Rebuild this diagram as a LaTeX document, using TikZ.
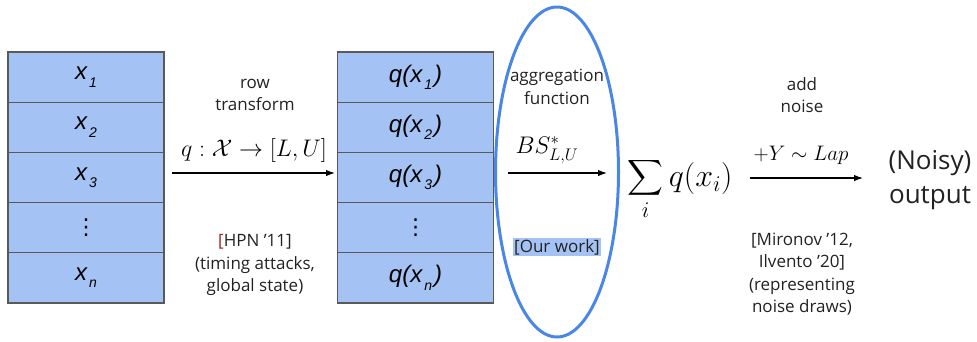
\RequirePackage{fix-cm}
\documentclass[tikz,border=0pt]{standalone}
\usepackage{exscale}
\usepackage{amsmath}
\usepackage{fontspec}
\setmainfont{Open Sans}
\newfontfamily\cellfont{Liberation Sans}
\newfontfamily\dotfont{DejaVu Sans}
\usetikzlibrary{arrows.meta,shapes.geometric}
\definecolor{cellblue}{HTML}{A4C2F4}
\definecolor{ringblue}{HTML}{4A86E8}
\definecolor{edgegray}{HTML}{595959}
\definecolor{txt}{HTML}{222222}
\definecolor{brk}{HTML}{A02020}
\newcommand\cx[1]{x\hspace{2pt}\raisebox{-7.5pt}{\fontsize{14}{14}\selectfont #1}}
\newcommand\qx[1]{q(\cx{#1}\hspace{2pt})}
\newcommand\vd{{\dotfont\upshape\fontsize{22}{24}\selectfont ⋮}}
\begin{document}
\begin{tikzpicture}[x=1pt,y=-1pt,
  cell/.style={draw=edgegray,line width=1.2pt,fill=cellblue,minimum width=156pt,minimum height=50.2pt,inner sep=0pt,text=black,font=\cellfont\itshape\fontsize{24}{26}\selectfont},
  lbl/.style={font=\fontsize{17}{22.5}\selectfont,align=center,text=txt,inner sep=0pt},
  arr/.style={-{Latex[length=9pt,width=6.5pt]},line width=1.2pt},
  ]
\useasboundingbox (0,0) rectangle (977,341);
% left table
\node[cell] (l1) at (86,77.1) {\cx{1}};
\node[cell] (l2) at (86,127.3) {\cx{2}};
\node[cell] (l3) at (86,177.5) {\cx{3}};
\node[cell] (l4) at (86,227.7) {\vd};
\node[cell] (l5) at (86,277.9) {\cx{n}};
% middle table
\node[cell] (m1) at (415.5,77.1) {\qx{1}};
\node[cell] (m2) at (415.5,127.3) {\qx{2}};
\node[cell] (m3) at (415.5,177.5) {\qx{3}};
\node[cell] (m4) at (415.5,227.7) {\vd};
\node[cell] (m5) at (415.5,277.9) {\qx{n}};
% ellipse
\node[draw=ringblue,line width=3pt,ellipse,minimum width=123pt,minimum height=330pt,inner sep=0pt] (ring) at (557,172) {};
% labels row transform
\node[lbl] (rowlbl) at (255,95) {row\\transform};
\node[inner sep=0pt] (qmap) at (254,150) {\fontsize{24}{26}\selectfont $q:\mathcal{X}\to[L,U]$};
\node[lbl] (hpn) at (255,265) {{\color{brk}[}HPN ’11]\\(timing attacks,\\global state)};
% aggregation
\node[lbl] (agg) at (557,87) {aggregation\\function};
\node[inner sep=0pt] (bs) at (547,150) {\fontsize{24}{26}\selectfont $BS^*_{L,U}$};
\node[lbl,fill=cellblue,inner sep=1.5pt] (ours) at (557,247) {[Our work]};
% sum
\node[inner sep=0pt] (sum) at (680,189) {\fontsize{32}{34}\selectfont $\displaystyle\sum_i q(x_i)$};
% noise
\node[lbl] (addn) at (802,95) {add\\noise};
\node[inner sep=0pt] (lap) at (801,155) {\fontsize{21}{23}\selectfont $+Y\sim Lap$};
\node[lbl] (mir) at (802,274) {[Mironov ’12,\\Ilvento ’20]\\(representing\\noise draws)};
% output
\node[font=\fontsize{26}{34}\selectfont,align=center,text=txt,inner sep=0pt] (out) at (930,180) {(Noisy)\\output};
% arrows
\coordinate (a1s) at (172,173);
\coordinate (a1e) at (335,173);
\coordinate (a2s) at (508,173);
\coordinate (a2e) at (607,173);
\coordinate (a3s) at (750,178);
\coordinate (a3e) at (863,178);
\draw[arr] (a1s) -- (a1e);
\draw[arr] (a2s) -- (a2e);
\draw[arr] (a3s) -- (a3e);
\end{tikzpicture}
\end{document}
